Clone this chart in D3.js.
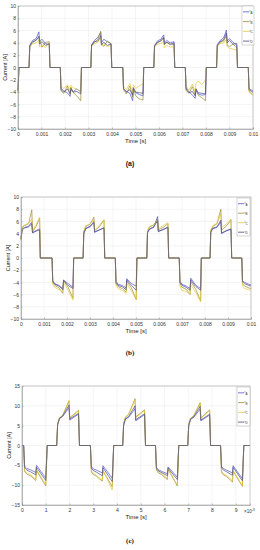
<!DOCTYPE html>
<html>
<head>
<meta charset="utf-8">
<script src="https://cdn.jsdelivr.net/npm/d3@7"></script>
<style>
  body { margin: 0; background: #fff; }
  text { font-family: "Liberation Sans", Arial, sans-serif; }
</style>
</head>
<body>
<div id="container"></div>
<script>
/* CONSTANTS AND GLOBALS */
const width = 260;
const height = 550;

const seriesNames = ["A", "B", "C", "D"];
const seriesColors = ["#4d52cc", "#9c8a2e", "#e6c93a", "#4a4a80"];

// x tick labels
const xTicksA = [0, 1, 2, 3, 4, 5, 6, 7, 8, 9, 10];
const xLabelsA = ["0", "0.001", "0.002", "0.003", "0.004", "0.005", "0.006", "0.007", "0.008", "0.009", "0.01"];
const xTicksC = [0, 1, 2, 3, 4, 5, 6, 7, 8, 9];
const xLabelsC = ["0", "1", "2", "3", "4", "5", "6", "7", "8", "9"];
const yTicksAB = [-10, -8, -6, -4, -2, 0, 2, 4, 6, 8, 10];
const yTicksC = [-15, -10, -5, 0, 5, 10, 15];

/* PANEL (a) - time in ms */
const tA = [0, 0.04,
  0.47, 0.50, 0.62, 0.77, 0.89, 0.92, 1.02, 1.17, 1.33, 1.36,
  1.80, 1.83, 1.95, 2.10, 2.22, 2.25, 2.35, 2.50, 2.67, 2.70,
  3.10, 3.13, 3.25, 3.40, 3.52, 3.55, 3.65, 3.80, 3.96, 3.99,
  4.46, 4.49, 4.61, 4.76, 4.88, 4.91, 5.01, 5.16, 5.32, 5.35,
  5.78, 5.81, 5.93, 6.08, 6.20, 6.23, 6.33, 6.48, 6.64, 6.67,
  7.12, 7.15, 7.27, 7.42, 7.54, 7.57, 7.67, 7.82, 7.98, 8.01,
  8.45, 8.48, 8.60, 8.75, 8.87, 8.90, 9.00, 9.15, 9.31, 9.34,
  9.80, 9.83, 9.95, 10];
const aA = [-3.6, 0,
  0, 3.6, 4.4, 4.7, 5.8, 4.2, 4.6, 3.9, 3.7, 0,
  0, -3.4, -3.8, -4.1, -4.7, -3.6, -3.9, -3.5, -3.9, 0,
  0, 3.7, 4.4, 4.9, 5.7, 4.0, 4.6, 4.2, 3.9, 0,
  0, -3.5, -3.9, -4.2, -5.4, -3.6, -4.1, -4.4, -4.6, 0,
  0, 3.6, 4.3, 4.6, 5.3, 3.9, 4.4, 4.0, 4.2, 0,
  0, -3.3, -3.9, -4.5, -5.0, -3.7, -4.3, -4.5, -4.4, 0,
  0, 3.7, 4.4, 4.8, 6.1, 4.3, 4.7, 4.1, 3.6, 0,
  0, -3.4, -3.7, -3.8];
const aB = [-4.0, 0,
  0, 3.4, 4.0, 4.5, 4.9, 4.6, 3.3, 4.1, 4.2, 0,
  0, -3.8, -4.2, -3.0, -4.4, -3.2, -4.1, -4.6, -5.4, 0,
  0, 3.5, 4.1, 4.6, 5.9, 4.0, 3.4, 4.3, 3.8, 0,
  0, -3.6, -4.3, -3.0, -4.8, -3.3, -4.6, -5.1, -5.3, 0,
  0, 3.4, 4.0, 4.4, 4.8, 3.7, 4.1, 3.9, 3.7, 0,
  0, -3.7, -4.2, -3.1, -4.5, -3.4, -4.5, -4.9, -5.4, 0,
  0, 3.5, 4.1, 4.3, 5.2, 3.6, 3.4, 3.8, 3.2, 0,
  0, -3.8, -4.2, -4.4];
const aC = [-4.2, 0,
  0, 3.3, 3.9, 4.0, 4.5, 3.3, 3.7, 3.2, 4.0, 0,
  0, -3.0, -3.4, -2.8, -3.7, -2.9, -3.3, -3.5, -4.0, 0,
  0, 3.4, 3.9, 4.1, 4.9, 3.5, 3.9, 3.4, 3.6, 0,
  0, -3.1, -3.6, -2.6, -4.1, -2.8, -3.4, -3.0, -2.6, 0,
  0, 3.3, 3.8, 3.9, 4.2, 3.2, 3.6, 3.3, 3.4, 0,
  0, -3.0, -3.7, -2.7, -3.9, -2.6, -2.2, -2.8, -2.0, 0,
  0, 3.4, 3.9, 4.0, 4.6, 3.4, 3.1, 3.0, 2.8, 0,
  0, -4.0, -4.4, -4.5];
const aD = [-3.8, 0,
  0, 3.5, 4.2, 4.4, 5.1, 3.8, 4.2, 3.6, 3.9, 0,
  0, -3.6, -4.0, -3.5, -4.2, -3.4, -4.0, -3.9, -4.3, 0,
  0, 3.6, 4.2, 4.3, 5.2, 3.7, 4.1, 3.6, 3.8, 0,
  0, -3.4, -4.0, -3.6, -4.5, -3.3, -4.0, -4.1, -4.2, 0,
  0, 3.5, 4.1, 4.3, 4.9, 3.8, 4.1, 3.7, 4.0, 0,
  0, -3.5, -4.1, -3.9, -4.6, -3.5, -4.1, -4.2, -4.3, 0,
  0, 3.6, 4.2, 4.5, 5.6, 4.0, 4.4, 3.8, 3.9, 0,
  0, -3.6, -3.9, -4.0];

/* PANEL (b) - time in ms */
const tB = [0, 0.05, 0.15, 0.33, 0.47, 0.50, 0.66, 0.81, 0.84,
  1.35, 1.38, 1.47, 1.65, 1.82, 1.85, 2.05, 2.26, 2.29,
  2.70, 2.73, 2.82, 3.00, 3.17, 3.20, 3.40, 3.61, 3.64,
  4.10, 4.13, 4.22, 4.40, 4.57, 4.60, 4.80, 5.01, 5.04,
  5.47, 5.50, 5.59, 5.77, 5.94, 5.97, 6.17, 6.39, 6.42,
  6.88, 6.91, 7.00, 7.18, 7.35, 7.38, 7.58, 7.81, 7.84,
  8.22, 8.25, 8.34, 8.52, 8.69, 8.72, 8.92, 9.13, 9.16,
  9.60, 9.63, 9.72, 9.90, 10];
const bA = [3.2, 4.8, 5.0, 5.2, 5.9, 4.2, 4.5, 4.8, 0,
  0, -3.7, -4.2, -4.5, -5.0, -3.6, -4.2, -4.8, 0,
  0, 4.0, 4.8, 5.1, 6.0, 4.3, 4.6, 5.0, 0,
  0, -3.8, -4.3, -4.5, -4.9, -3.4, -4.2, -4.6, 0,
  0, 4.1, 4.7, 5.0, 6.8, 4.4, 4.6, 5.1, 0,
  0, -3.8, -4.3, -4.6, -5.0, -3.3, -4.4, -5.0, 0,
  0, 4.2, 4.8, 5.0, 5.9, 4.0, 4.4, 4.8, 0,
  0, -3.7, -4.0, -4.3, -4.4];
const bB = [3.0, 5.0, 5.3, 5.6, 7.9, 4.3, 5.2, 6.5, 0,
  0, -4.0, -4.5, -4.9, -5.8, -3.7, -4.8, -6.6, 0,
  0, 4.3, 5.2, 5.5, 6.7, 4.5, 5.1, 6.2, 0,
  0, -4.2, -4.7, -5.0, -5.6, -3.8, -4.9, -6.8, 0,
  0, 4.4, 5.1, 5.4, 6.4, 4.6, 5.0, 5.6, 0,
  0, -4.2, -4.8, -5.1, -6.0, -3.9, -5.0, -7.0, 0,
  0, 4.5, 5.2, 5.6, 8.0, 4.6, 5.2, 6.2, 0,
  0, -4.2, -4.6, -4.9, -5.0];
const bC = [2.9, 5.1, 5.4, 5.7, 6.4, 4.4, 5.5, 6.7, 0,
  0, -4.3, -4.8, -5.2, -5.5, -4.0, -5.3, -6.9, 0,
  0, 4.4, 5.3, 5.6, 6.2, 4.6, 5.3, 6.3, 0,
  0, -4.5, -5.0, -5.3, -5.8, -4.2, -5.4, -6.8, 0,
  0, 4.5, 5.2, 5.4, 6.0, 4.8, 5.3, 5.8, 0,
  0, -4.6, -5.3, -5.5, -5.9, -4.4, -5.5, -7.2, 0,
  0, 4.6, 5.3, 5.7, 7.2, 5.0, 5.5, 6.4, 0,
  0, -4.6, -5.0, -5.2, -5.3];
const bD = [3.1, 4.6, 4.9, 5.1, 5.6, 4.1, 4.4, 4.6, 0,
  0, -3.9, -4.3, -4.6, -5.2, -3.7, -4.5, -5.0, 0,
  0, 4.1, 4.9, 5.2, 5.8, 4.2, 4.6, 4.9, 0,
  0, -4.0, -4.5, -4.7, -5.2, -3.6, -4.5, -5.3, 0,
  0, 4.2, 4.8, 5.1, 6.1, 4.3, 4.7, 5.0, 0,
  0, -4.0, -4.5, -4.8, -5.3, -3.6, -4.6, -5.3, 0,
  0, 4.3, 4.9, 5.1, 6.2, 4.1, 4.5, 4.7, 0,
  0, -3.9, -4.2, -4.5, -4.6];

/* PANEL (c) - time in ms (x10^-3 s) */
const tC = [0, 0.07, 0.11, 0.20, 0.35, 0.58, 0.61, 1.00, 1.06,
  1.46, 1.50, 1.58, 1.71, 1.98, 2.01, 2.38, 2.42,
  2.88, 2.92, 3.00, 3.13, 3.38, 3.41, 3.80, 3.86,
  4.24, 4.28, 4.36, 4.49, 4.76, 4.79, 5.16, 5.20,
  5.62, 5.66, 5.74, 5.87, 6.12, 6.15, 6.54, 6.60,
  6.98, 7.02, 7.10, 7.23, 7.50, 7.53, 7.90, 7.94,
  8.36, 8.40, 8.48, 8.61, 8.86, 8.89, 9.28, 9.34,
  9.6];
const cA = [0, 0, -5.2, -5.8, -6.1, -6.8, -5.0, -8.2, 0,
  0, 5.2, 6.8, 7.3, 9.6, 6.4, 7.9, 0,
  0, -5.3, -5.9, -6.2, -6.9, -5.1, -8.3, 0,
  0, 5.1, 6.7, 7.1, 9.3, 6.2, 7.8, 0,
  0, -5.5, -6.1, -6.5, -7.1, -5.4, -8.0, 0,
  0, 5.0, 6.6, 7.1, 9.2, 6.2, 7.7, 0,
  0, -5.3, -5.8, -6.2, -6.9, -5.1, -8.4, 0,
  0];
const cB = [0, 0, -6.6, -7.2, -7.6, -8.8, -6.3, -10.2, 0,
  0, 5.5, 7.0, 7.6, 11.2, 7.0, 8.9, 0,
  0, -6.7, -7.3, -7.7, -9.0, -6.4, -10.4, 0,
  0, 5.6, 7.2, 7.9, 11.8, 7.2, 9.0, 0,
  0, -6.2, -6.9, -7.3, -8.6, -6.0, -10.2, 0,
  0, 5.4, 6.9, 7.5, 10.7, 6.9, 9.0, 0,
  0, -6.8, -7.4, -7.8, -9.2, -6.5, -10.3, 0,
  0];
const cC = [0, 0, -6.3, -6.9, -7.3, -8.5, -6.0, -9.9, 0,
  0, 5.4, 6.9, 7.5, 11.4, 6.8, 8.7, 0,
  0, -6.4, -7.0, -7.5, -8.8, -6.2, -11.2, 0,
  0, 5.5, 7.1, 7.8, 11.5, 7.0, 8.8, 0,
  0, -6.0, -6.6, -7.0, -8.3, -5.8, -10.0, 0,
  0, 5.3, 6.8, 7.4, 10.9, 6.8, 8.8, 0,
  0, -6.5, -7.1, -7.5, -8.9, -6.3, -10.1, 0,
  0];
const cD = [0, 0, -5.6, -6.2, -6.6, -7.4, -5.5, -8.8, 0,
  0, 5.3, 6.9, 7.4, 10.2, 6.7, 8.1, 0,
  0, -5.7, -6.3, -6.7, -7.6, -5.6, -9.1, 0,
  0, 5.2, 6.8, 7.3, 10.0, 6.5, 8.0, 0,
  0, -5.8, -6.4, -6.8, -7.6, -5.7, -8.6, 0,
  0, 5.1, 6.7, 7.2, 9.9, 6.4, 7.9, 0,
  0, -5.6, -6.2, -6.6, -7.5, -5.5, -8.9, 0,
  0];

/* PANEL LAYOUTS */
const panels = [
  { label: "(a)", t: tA, series: [aA, aB, aC, aD], xDomain: [0, 10], xTicks: xTicksA, xLabels: xLabelsA,
    yDomain: [-10, 10], yTicks: yTicksAB, left: 18, right: 253, top: 6, bottom: 129,
    legend: { x: 242, y: 6, w: 12, h: 39 }, labelY: 166, serifLabel: false },
  { label: "(b)", t: tB, series: [bA, bB, bC, bD], xDomain: [0, 10], xTicks: xTicksA, xLabels: xLabelsA,
    yDomain: [-10, 10], yTicks: yTicksAB, left: 21, right: 251, top: 197, bottom: 319,
    legend: { x: 237, y: 198, w: 13, h: 38 }, labelY: 355, serifLabel: true },
  { label: "(c)", t: tC, series: [cA, cB, cC, cD], xDomain: [0, 9.6], xTicks: xTicksC, xLabels: xLabelsC,
    yDomain: [-15, 15], yTicks: yTicksC, left: 22, right: 250, top: 386, bottom: 505,
    legend: { x: 237, y: 387, w: 13, h: 39 }, labelY: 543, serifLabel: true, exponent: true }
];

const svg = d3.select("#container")
  .append("svg")
  .attr("width", width)
  .attr("height", height)
  .style("background", "#fff");

panels.forEach(p => drawPanel(p));

function drawPanel(p) {
  const xScale = d3.scaleLinear().domain(p.xDomain).range([p.left, p.right]);
  const yScale = d3.scaleLinear().domain(p.yDomain).range([p.bottom, p.top]);
  const g = svg.append("g");

  // grid
  g.selectAll(".vgrid")
    .data(p.xTicks)
    .join("line")
    .attr("x1", d => xScale(d)).attr("x2", d => xScale(d))
    .attr("y1", p.top).attr("y2", p.bottom)
    .attr("stroke", "#e8e8e8").attr("stroke-width", 0.5);
  g.selectAll(".hgrid")
    .data(p.yTicks)
    .join("line")
    .attr("y1", d => yScale(d)).attr("y2", d => yScale(d))
    .attr("x1", p.left).attr("x2", p.right)
    .attr("stroke", "#e8e8e8").attr("stroke-width", 0.5);

  // waveforms
  const line = d3.line()
    .x((d, i) => xScale(p.t[i]))
    .y(d => yScale(d));
  p.series.forEach((vals, k) => {
    g.append("path")
      .datum(vals)
      .attr("d", line)
      .attr("fill", "none")
      .attr("stroke", seriesColors[k])
      .attr("stroke-width", 0.7)
      .attr("stroke-linejoin", "round");
  });

  // axes
  const xAxis = g.append("g")
    .attr("transform", `translate(0,${p.bottom})`)
    .call(d3.axisBottom(xScale).tickValues(p.xTicks)
      .tickFormat((d, i) => p.xLabels[i]).tickSize(-1.5).tickPadding(3));
  const yAxis = g.append("g")
    .attr("transform", `translate(${p.left},0)`)
    .call(d3.axisLeft(yScale).tickValues(p.yTicks).tickSize(-1.5).tickPadding(2));
  [xAxis, yAxis].forEach(a => {
    a.selectAll("path").attr("stroke", "#888").attr("stroke-width", 0.5);
    a.selectAll("line").attr("stroke", "#888").attr("stroke-width", 0.5);
    a.selectAll("text").attr("fill", "#333").style("font-size", "5px");
  });

  // box
  g.append("rect")
    .attr("x", p.left).attr("y", p.top)
    .attr("width", p.right - p.left).attr("height", p.bottom - p.top)
    .attr("fill", "none").attr("stroke", "#999").attr("stroke-width", 0.5);

  // axis titles
  g.append("text")
    .attr("x", (p.left + p.right) / 2)
    .attr("y", p.bottom + 14)
    .attr("text-anchor", "middle")
    .attr("fill", "#222")
    .style("font-size", "6px")
    .text("Time  [s]");
  g.append("text")
    .attr("transform", `translate(${p.left - 11},${(p.top + p.bottom) / 2}) rotate(-90)`)
    .attr("text-anchor", "middle")
    .attr("fill", "#222")
    .style("font-size", "5.5px")
    .text("Current [A]");

  if (p.exponent) {
    const ex = g.append("text")
      .attr("x", p.right - 6)
      .attr("y", p.bottom + 8)
      .attr("fill", "#333")
      .style("font-size", "4.5px");
    ex.append("tspan").text("\u00d710");
    ex.append("tspan").attr("dy", -2).style("font-size", "3.5px").text("-3");
  }

  // legend
  const lg = g.append("g");
  lg.append("rect")
    .attr("x", p.legend.x).attr("y", p.legend.y)
    .attr("width", p.legend.w).attr("height", p.legend.h)
    .attr("fill", "#fff").attr("stroke", "#aaa").attr("stroke-width", 0.5);
  const step = p.legend.h / 4;
  seriesNames.forEach((name, k) => {
    const ly = p.legend.y + step * (k + 0.6);
    lg.append("line")
      .attr("x1", p.legend.x + 1).attr("x2", p.legend.x + 7)
      .attr("y1", ly).attr("y2", ly)
      .attr("stroke", seriesColors[k]).attr("stroke-width", 0.8);
    const tx = lg.append("text")
      .attr("x", p.legend.x + 7.5).attr("y", ly + 0.5)
      .attr("fill", "#333")
      .style("font-size", "4px");
    tx.append("tspan").text("i");
    tx.append("tspan").attr("dy", 1.5).style("font-size", "3px").text(name);
  });

  // panel label
  svg.append("text")
    .attr("x", 130)
    .attr("y", p.labelY)
    .attr("text-anchor", "middle")
    .attr("fill", "#111")
    .style("font-family", p.serifLabel ? "'Liberation Serif', serif" : "'Liberation Sans', sans-serif")
    .style("font-weight", "bold")
    .style("font-size", "7px")
    .text(p.label);
}
</script>
</body>
</html>
